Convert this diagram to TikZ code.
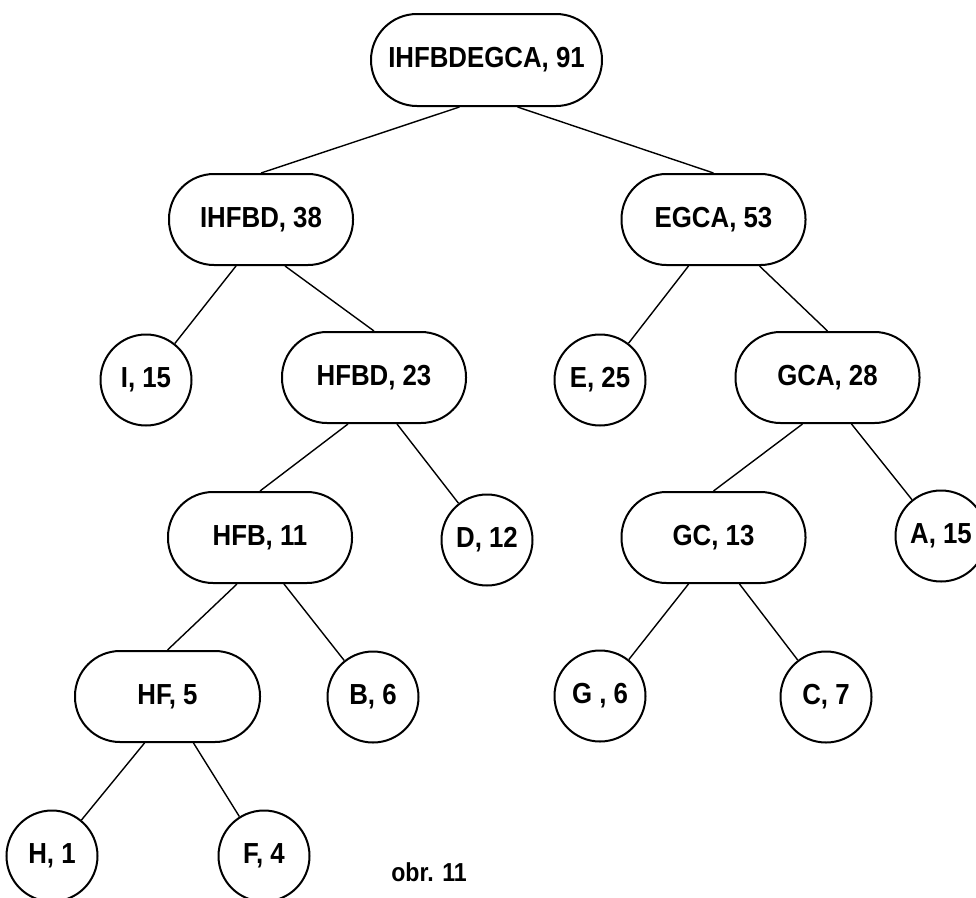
\documentclass[tikz,border=0pt]{standalone}
\usepackage{fontspec}
\setmainfont{Liberation Sans}[FakeStretch=0.89]
\begin{document}
\begin{tikzpicture}[x=1pt,y=-1pt,
  label font/.style={font=\fontsize{29}{33}\selectfont\bfseries},
  pill/.style={label font, draw, line width=2pt, rectangle,
    minimum width=184pt, minimum height=91pt, rounded corners=45pt, inner sep=0pt},
  leaf/.style={label font, draw, line width=2pt, circle,
    minimum size=91pt, inner sep=0pt},
  edge/.style={line width=1.4pt}]
\useasboundingbox (0,0) rectangle (976,897);

% inner nodes (rounded pills)
\node[pill, minimum width=231pt, minimum height=92pt, rounded corners=46pt] (root) at (486.5,60) {IHFBDEGCA, 91};
\node[pill] (ihfbd) at (261,219.5) {IHFBD, 38};
\node[pill] (egca)  at (713.5,219.5) {EGCA, 53};
\node[pill] (hfbd)  at (374,377.5) {HFBD, 23};
\node[pill] (gca)   at (827.5,377.5) {GCA, 28};
\node[pill] (hfb)   at (260,537.5) {HFB, 11};
\node[pill] (gc)    at (713.5,537.5) {GC, 13};
\node[pill, minimum width=185pt] (hf) at (167.5,696.5) {HF, 5};

% leaves (circles)
\node[leaf] (i) at (146,380) {I, 15};
\node[leaf] (e) at (600,380) {E, 25};
\node[leaf] (d) at (487,540) {D, 12};
\node[leaf] (a) at (941,536) {A, 15};
\node[leaf] (b) at (373,697) {B, 6};
\node[leaf] (g) at (600,696) {G , 6};
\node[leaf] (c) at (826,697) {C, 7};
\node[leaf] (h) at (52,856) {H, 1};
\node[leaf] (f) at (264,856) {F, 4};

% connectors
\draw[edge] ([xshift=-27pt]root.south) -- (ihfbd.north);
\draw[edge] ([xshift=31pt]root.south) -- (egca.north);
\draw[edge] ([xshift=-25pt]ihfbd.south) -- (i);
\draw[edge] ([xshift=24pt]ihfbd.south) -- (hfbd.north);
\draw[edge] ([xshift=-25pt]egca.south) -- (e);
\draw[edge] ([xshift=46pt]egca.south) -- (gca.north);
\draw[edge] ([xshift=-26pt]hfbd.south) -- (hfb.north);
\draw[edge] ([xshift=23pt]hfbd.south) -- (d);
\draw[edge] ([xshift=-25pt]gca.south) -- (gc.north);
\draw[edge] ([xshift=24pt]gca.south) -- (a);
\draw[edge] ([xshift=-23pt]hfb.south) -- (hf.north);
\draw[edge] ([xshift=24pt]hfb.south) -- (b);
\draw[edge] ([xshift=-25pt]gc.south) -- (g);
\draw[edge] ([xshift=26pt]gc.south) -- (c);
\draw[edge] ([xshift=-23pt]hf.south) -- (h);
\draw[edge] ([xshift=26pt]hf.south) -- (f);

% caption
\node[font=\fontsize{26}{30}\selectfont\bfseries] (caption) at (429,872) {obr. 11};
\end{tikzpicture}
\end{document}
